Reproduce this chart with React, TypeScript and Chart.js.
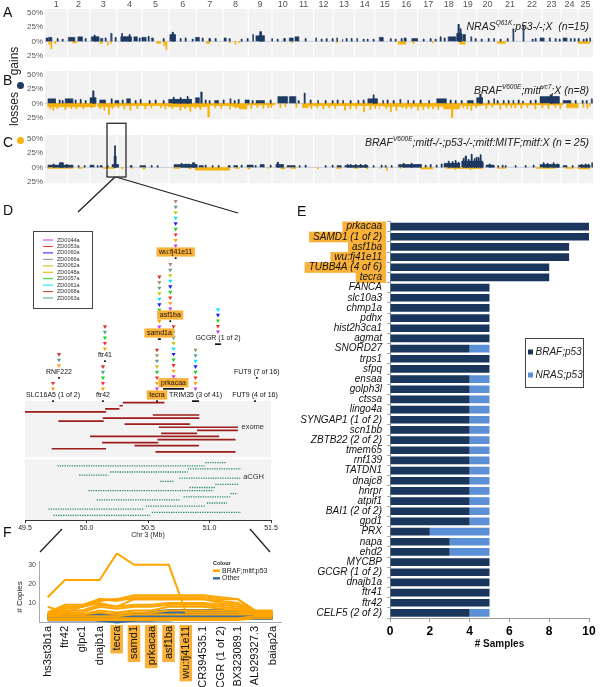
import React, { useEffect, useRef } from "react";
import { Chart, registerables } from "chart.js";
Chart.register(...registerables);

const FF = '"Liberation Sans", Arial, Helvetica, sans-serif';
const GAIN = "#1e3a63";
const LOSS = "#f6b30f";
const HILITE = "#f9b13a";

// ---------------- Panels A–C : genome-wide gains / losses ----------------
const chromosomes = ["1","2","3","4","5","6","7","8","9","10","11","12","13","14","15","16","17","18","19","20","21","22","23","24","25"];
const chromLengths = [22.4, 22.3, 27.3, 25, 27, 27.5, 26.5, 25.2, 23.7, 21.6, 20.1, 19.6, 21.4, 20.1, 20.3, 22.6, 21.1, 19.9, 18.2, 21.6, 23.4, 20.2, 19, 17, 15];
const yTickValues = [50, 25, 0, -25];

// segments: [start, end, percent]
const nrasGains = [[1.0,3.0,6],[3.5,6.7,7],[12,13,5],[17,18,4],[23.2,29.7,7],[32.7,37.3,8],[40,41,5],[46.2,53.8,8],[49,50,11],[55.3,57.6,5],[60,61,6],[65.5,66.8,14],[70,71,7],[75.6,86.4,8],[76.5,77.5,14],[84,85,12],[88.7,92.1,8],[94,95,6],[96.7,100.9,7],[103,104,9],[106.3,108.2,6],[118,119,5],[124.7,130.4,12],[127,128.5,16],[135,136,5],[140,141,6],[147,148,4],[150.3,154.2,7],[157,158,6],[163.7,165.5,5],[170,171,5],[179,181,6],[184,185,5],[196,197,4],[202,203,5],[207.5,208.5,12],[210.8,219.3,10],[214.5,216.5,17],[226.5,227.5,5],[232,233,4],[238.4,240.3,5],[244.2,248,6],[249.9,253.7,8],[260,261,5],[270.5,271.5,6],[276,277,4],[281,282,5],[287,288,5],[291.5,292.5,6],[297,298,4],[301,302,5],[306,307,5],[311.5,312.5,5],[318,319,4],[322,323,4],[328,329,4],[334.2,338,7],[345.2,346.2,5],[350,351,4],[356,357,5],[359,361,6],[366.7,372.5,5],[378,379,4],[385,386,5],[390,391,4],[395,396,8],[399,400,6],[403.1,410.8,8],[411.5,416.5,14],[412.8,414.2,30],[415,416,22],[417.3,420.3,12],[425.6,426.6,8],[430,431,5],[436,437,4],[443,444,5],[448.5,449.5,5],[455,456,4],[462,463,5],[467.7,468.7,22],[477.8,478.8,28],[487,488,4],[490,491,5],[495,498.9,6],[504.2,505.2,6],[510,511,5],[514,515,4],[518,521.8,6],[525.2,526.2,5],[529,530,5],[533,534,5],[538,539,4],[541,542,5],[544.5,545.5,6]];
const nrasLosses = [[4,5,-5],[6,7,-13],[10,11,-4],[27.8,31.6,-3],[55.3,57.6,-4],[62.5,63.5,-7],[65.5,66.5,-4],[112,115.9,-4],[118.9,120.8,-8],[121.2,122,-15],[161.8,164.9,-4],[184.5,185.5,-3],[190,191,-5],[194,195,-3],[246.5,247.5,-3],[291.5,292.5,-3],[353.3,361,-5],[368,369,-4],[387.5,388.5,-3],[414.6,420.3,-5],[452.9,460.6,-4],[533.3,544.8,-4]];

const brafMitfGains = [[2.9,10.5,8],[14,15,6],[17,18,5],[20.1,27.8,8],[30,31,6],[35,36,7],[40,41,5],[45,50.8,10],[47.5,48.8,22],[54.6,60.3,6],[66,67,8],[69.9,73.7,5],[77,78,6],[81.4,85.2,8],[90,91,5],[95,96,7],[104,105,5],[110,111,6],[118,119,5],[123.5,146.5,7],[128,129,11],[135,136,10],[142,143,12],[150.3,154.2,10],[155.5,157,20],[160,161,6],[164,165,5],[169.5,173.3,5],[178,179,6],[184.8,185.8,8],[189,190,5],[193,194,7],[200,204,6],[207,208,5],[211,219.3,5],[225,226,6],[232.7,242.3,12],[244.2,250.7,12],[253,254,5],[259,260,18],[265,266,6],[272.5,273.5,5],[280,281,5],[287,288,5],[292,293,6],[297.5,298.5,5],[305,306,5],[312.7,313.7,5],[318,319,6],[322.7,332.3,8],[328,329,15],[337.5,338.5,5],[342,343,6],[348,349,5],[354.7,355.7,7],[362.5,363.5,5],[368,369,5],[375,376,6],[383.5,384.5,5],[391.6,401.2,8],[405,406,6],[410,411,5],[416,417,5],[422.3,428,5],[431.5,437.5,10],[434.5,436,16],[443,444,5],[448.5,449.5,8],[452,453,5],[458,459,5],[463,464,5],[467.7,468.7,5],[473,474,6],[477.3,478.3,4],[485,486,5],[490,491,6],[495,514.2,12],[505,507,15],[518,525.7,5],[530,531,5],[537,538,5],[541,542,5],[546.2,547.2,8]];
const brafMitfLosses = [[2.9,50.8,-6],[5,6,-10],[8,9,-12],[12,13,-9],[20,21,-11],[26,27,-9],[31,32,-10],[38,39,-10],[46,47,-8],[52.7,69.9,-6],[55,56,-10],[59,60,-12],[63.5,64.5,-20],[67,68,-9],[69.9,123.5,-4],[73,74,-8],[79,80,-10],[85,86,-12],[92,93,-9],[100,101,-10],[106,107,-8],[115.5,116.5,-8],[120,121,-10],[123.5,161.8,-6],[127,128,-9],[135,136,-12],[140,141,-10],[145,146,-14],[150,151,-9],[155,156,-11],[163,164.5,-24],[161.8,194.4,-4],[170,171,-8],[176,177,-9],[184.5,185.5,-10],[190,191,-8],[194.4,202,-10],[202,230,-3],[206,207,-9],[212,213,-7],[218,219,-9],[223,224,-8],[226,227,-7],[235,236,-8],[240,241,-6],[251,252,-7],[257.6,263.3,-8],[263.3,338,-4],[266,267,-9],[272,273,-8],[278,279,-10],[284,285,-8],[290,291,-9],[299.5,300.5,-12],[305,306,-10],[311,312,-9],[318.5,319.5,-15],[325,326,-11],[330,331,-9],[334,335,-10],[338,401,-5],[341,342,-9],[345.5,346.5,-15],[351,352,-12],[357,358,-8],[361,362,-10],[366,367,-9],[372.5,373.5,-12],[378,379,-11],[383,384,-9],[387.5,388.5,-10],[393,394,-11],[399,414.6,-10],[406.5,408,-25],[414.6,437.6,-4],[418,419,-8],[422,423,-9],[426,427,-12],[431,432,-8],[437.6,518,-3],[441,442,-9],[447,448,-7],[455,456,-10],[461,462,-7],[466,467,-8],[470,471,-8],[476,477,-9],[482,483,-7],[490,491,-10],[497,498,-8],[503,504,-9],[510,511,-7],[515,516,-9],[521.8,533.3,-8],[538,539,-7],[542,543,-9],[544.5,545.5,-5]];

const brafP53Gains = [[2.9,27.8,4],[8,9,6],[14.4,18.2,8],[21,22,5],[33,34,3],[39,40,3],[45,48.8,4],[52,53,3],[55,57,3],[62,63,3],[67,73.5,5],[69,71,20],[69.6,70.4,38],[85,87,3],[94.8,100.5,3],[106,107,3],[112,113,3],[129,152,5],[136,137,7],[140,141,6],[143,144,6],[147.5,149.5,8],[154,158,3],[160,161,4],[167,168,3],[173,174,3],[183,185,3],[188.6,192.5,3],[196,197,4],[202,208,4],[210,211,3],[215,219,5],[225,226,4],[230.8,238.4,5],[232,233.5,9],[242,250,3],[254,255,3],[260,261,4],[280,281,3],[287,288,4],[292,296,3],[299.7,322.7,3],[302,303,5],[305,306,5],[310,311,5],[315,316,5],[320,321,5],[328,329,3],[336,337,4],[340,341,3],[346,347,3],[353.3,376.3,5],[358,359,7],[366,367,7],[380,381,4],[385,386,5],[391,392,4],[396,397,6],[399,414.6,7],[403,404,11],[407,408,10],[410,411,12],[413,414,9],[416.5,437.6,11],[418,419,16],[420,421.5,20],[423,424,14],[426,427,23],[429,430,15],[431,432,18],[433,434,17],[435,436,22],[437,438,8],[441,449,4],[444,445,6],[452.5,453.5,3],[457,458,4],[460,461,3],[470,471,3],[480,481,3],[488,489,4],[495,514.2,5],[498,499,8],[502,503,7],[508,509,8],[512,513,6],[518,521.8,3],[527,528,3],[533.3,544.8,4],[536,537,5],[540,541,6],[543,544,5],[546.5,547.5,8]];
const brafP53Losses = [[2.9,27.8,-2],[33.5,37.3,-2],[58.4,69.9,-2],[77,78,-3],[87,88,-2],[98,100,-3],[129,135,-2],[144,146,-3],[150.3,184.8,-5],[190.5,194.4,-2],[203,205,-3],[223,224,-2],[236,240,-3],[246,251,-2],[272.5,273.5,-3],[292,296,-2],[309,313,-2],[322,323,-3],[334,335,-3],[341.5,342.5,-6],[355,356,-2],[376,387.8,-3],[401,437.6,-2],[410,411,-4],[425,426,-4],[452.9,460.6,-2],[491,510.4,-2],[521,529,-2],[533.3,544.8,-3]];

const titleA = [["NRAS", false], ["Q61K", true], [";p53-/-;X  (n=15)", false]];
const titleB = [["BRAF", false], ["V600E", true], [";mitf", false], ["vc7", true], [";X (n=8)", false]];
const titleC = [["BRAF", false], ["V600E", true], [";mitf-/-;p53-/-;mitf:MITF;mitf:X (n = 25)", false]];

// ---------------- Panel D : chr3 49.5–51.5 Mb ----------------
const sampleIds = ["ZD0044a","ZD0053a","ZD0060a","ZD0066a","ZD0062a","ZD0048a","ZD0057a","ZD0061a","ZD0068a","ZD0063a"];
const sampleColors = ["#c43cf2","#ff2b2b","#1c1cff","#a58f70","#c8c400","#ffa300","#22cf22","#00e4ff","#d63030","#5e9e8a"];
const ALL10 = ["ZD0044a","ZD0048a","ZD0053a","ZD0057a","ZD0060a","ZD0061a","ZD0062a","ZD0063a","ZD0066a","ZD0068a"];
const NO68 = ["ZD0044a","ZD0048a","ZD0053a","ZD0057a","ZD0060a","ZD0061a","ZD0062a","ZD0063a","ZD0066a"];
const geneNames = ["SLC16A5 (1 of 2)","RNF222","ftr42","ftr41","tecra","samd1a","prkacaa","asf1ba","wu:fj41e11","TRIM35 (3 of 41)","GCGR (1 of 2)","FUT9 (7 of 16)","FUT9 (4 of 16)"];
const geneStart = [49.722, 49.772, 50.130, 50.146, 50.569, 50.580, 50.622, 50.677, 50.721, 50.858, 51.045, 51.381, 51.366];
const geneEnd   = [49.734, 49.780, 50.138, 50.154, 50.577, 50.605, 50.793, 50.685, 50.729, 50.915, 51.093, 51.387, 51.374];
const geneHighlighted = [false,false,false,false,true,true,true,true,true,false,false,false,false];
const geneSamples = [
  ["ZD0053a","ZD0048a"],
  ["ZD0068a","ZD0063a","ZD0048a"],
  ["ZD0068a","ZD0063a","ZD0057a","ZD0053a","ZD0048a"],
  ["ZD0068a","ZD0063a","ZD0057a","ZD0053a","ZD0048a"],
  ["ZD0068a","ZD0066a","ZD0063a","ZD0062a","ZD0057a","ZD0053a","ZD0048a","ZD0044a"],
  ALL10,
  ALL10,
  NO68,
  NO68,
  ["ZD0066a","ZD0063a","ZD0061a","ZD0060a","ZD0057a","ZD0053a","ZD0048a","ZD0044a"],
  ["ZD0061a","ZD0060a","ZD0057a","ZD0053a","ZD0044a"],
  [],
  [],
];
// layout: vertical row of each gene label (px below panel top)
const geneLabelRow = [205, 181.7, 205, 165, 205, 143, 192.7, 125, 62, 205, 148, 181.7, 205];
const exomeSegments = [[50.295,50.634],[50.268,50.295],[50.151,50.268],[49.5,50.16],[50.539,50.917],[50.132,50.917],[49.771,50.14],[50.309,50.841],[50.588,51.231],[50.898,51.231],[50.607,50.9],[50.029,51.079],[50.577,51.212],[50.127,50.583],[50.39,50.914],[49.717,50.159],[50.561,51.212]];
const acghSegments = [[50.965,51.134],[49.763,50.96],[50.824,51.256],[50.192,50.822],[49.94,50.178],[50.754,51.25],[50.599,50.708],[51.047,51.237],[50.838,51.047],[50.016,51.033],[51.169,51.229],[50.789,51.169],[50.083,50.756],[50.979,51.142],[50.482,50.965],[49.69,50.471],[50.531,51.256],[49.731,50.518]];
const dTicks = [49.5, 50.0, 50.5, 51.0, 51.5];

// ---------------- Panel E : recurrently gained genes ----------------
const eGenes = ["prkacaa","SAMD1 (1 of 2)","asf1ba","wu:fj41e11","TUBB4A (4 of 6)","tecra","FANCA","slc10a3","chmp1a","pdhx","hist2h3ca1","agmat","SNORD27","trps1","sfpq","ensaa","golph3l","ctssa","lingo4a","SYNGAP1 (1 of 2)","scn1bb","ZBTB22 (2 of 2)","tmem65","rnf139","TATDN1","dnajc8","hnrpr","atpif1","BAI1 (2 of 2)","gpd1","PRX","napa","ehd2","MYCBP","GCGR (1 of 2)","dnajb1a","ftr41","ftr42","CELF5 (2 of 2)"];
const eBraf = [10,10,9,9,8,8,5,5,5,5,5,5,4,5,5,4,4,4,4,4,4,4,4,4,4,4,4,4,4,4,2,3,3,5,5,5,5,5,4];
const eNras = [0,0,0,0,0,0,0,0,0,0,0,0,1,0,0,1,1,1,1,1,1,1,1,1,1,1,1,1,1,1,3,2,2,0,0,0,0,0,1];
const eHighlightCount = 6;
const eTicks = [0, 2, 4, 6, 8, 10];

// ---------------- Panel F : copy number across the amplicon ----------------
const fGenes = ["hs3st3b1a","ftr42","glpc1","dnajb1a","tecra","samd1","prkacaa","asf1ba","wu:fj41e11","CR394535.1","GCGR (1 of 2)","BX323089.1","AL929327.3","baiap2a"];
const fHighlighted = [4, 5, 6, 7, 8];
const fBrafLines = [
  [13,22,22,22,36,30,30,30,5,5,5,5,4,4],
  [8,5,8,12,12,14,14,14,14,14,13,12,6,6],
  [5,9,9,12,11,13,13,13,13,13,12,12,5,5],
  [4,8,8,11,12,12,12,12,12,12,11,10,5,5],
  [4,7,8,10,8,12,12,12,12,12,10,9,5,5],
  [4,6,6,9,8,9,9,10,10,10,9,8,5,5],
  [3,5,5,8,7,8,8,9,9,9,8,7,5,5],
  [3,5,4,6,5,6,6,8,8,8,7,6,4,4],
  [3,4,4,5,4,5,5,6,6,6,6,6,4,4],
  [3,3,3,3,3,4,4,4,4,4,4,4,4,4],
  [2,2,2,2,2,2,2,2,2,2,2,2,3,3],
  [1,1,1,1,1,1,1,1,1,1,1,1,2,2],
];
const fOtherLines = [
  [4,4,4,4,4,4,5,6,6,6,6,6,5,5],
  [4,4,4,4,3,4,4,5,6,6,6,5,5,5],
  [3,3,3,3,3,3,3,4,5,5,5,5,4,4],
  [3,3,3,2,2,2,3,3,4,4,4,4,4,4],
  [2,2,2,2,1,2,2,3,3,3,3,3,3,3],
  [2,2,2,1,0.5,1,2,2,2,2,2,3,3,3],
  [2,2,2,1,0,1,1,2,2,2,2,2,2,2],
  [1,1,1,1,1,1,1,1,2,2,2,2,2,2],
];
const fTicks = [10, 20, 30];

// ---------------- helpers ----------------
const chromBounds: number[] = (() => {
  const b = [0];
  chromLengths.forEach((l) => b.push(b[b.length - 1] + l));
  return b;
})();
const genomeLength = chromBounds[chromBounds.length - 1];

function segPoints(segs: number[][]) {
  const pts: any[] = [];
  for (const [s, e, v] of segs) {
    pts.push({ x: s, y: 0 }, { x: s, y: v }, { x: e, y: v }, { x: e, y: 0 }, { x: e, y: null });
  }
  return pts;
}

function ChartBox({ left, top, width, height, make }: any) {
  const ref = useRef<HTMLCanvasElement | null>(null);
  useEffect(() => {
    const chart = new Chart(ref.current as HTMLCanvasElement, make());
    return () => chart.destroy();
  }, []);
  return (
    <canvas
      ref={ref}
      width={width}
      height={height}
      style={{ position: "absolute", left, top, width, height }}
    />
  );
}

function trackConfig(gains: number[][], losses: number[][], o: any): any {
  const plugin = {
    id: "trackDeco",
    beforeDatasetsDraw(chart: any) {
      const { ctx, chartArea: a, scales } = chart;
      const x = scales.x, y = scales.y;
      ctx.save();
      ctx.fillStyle = "#f2f2f2";
      ctx.fillRect(a.left, a.top, a.right - a.left, a.bottom - a.top);
      ctx.strokeStyle = "#ffffff";
      ctx.lineWidth = 1.2;
      chromBounds.slice(1, -1).forEach((b) => {
        const px = x.getPixelForValue(b);
        ctx.beginPath();
        ctx.moveTo(px, a.top);
        ctx.lineTo(px, a.bottom);
        ctx.stroke();
      });
      const y0 = y.getPixelForValue(0);
      ctx.strokeStyle = "#c3cedb";
      ctx.lineWidth = 1;
      ctx.beginPath();
      ctx.moveTo(a.left, y0);
      ctx.lineTo(a.right, y0);
      ctx.stroke();
      ctx.restore();
    },
    afterDatasetsDraw(chart: any) {
      const { ctx, chartArea: a, scales } = chart;
      const x = scales.x;
      ctx.save();
      const widths = o.title.map((p: any) => {
        ctx.font = `italic ${p[1] ? 6.5 : 10.5}px ${FF}`;
        return ctx.measureText(p[0]).width;
      });
      let cx = a.right - 4 - widths.reduce((s: number, w: number) => s + w, 0);
      ctx.textAlign = "left";
      ctx.textBaseline = "middle";
      ctx.fillStyle = "#222";
      o.title.forEach((p: any, i: number) => {
        ctx.font = `italic ${p[1] ? 6.5 : 10.5}px ${FF}`;
        ctx.fillText(p[0], cx, o.titleY - (p[1] ? 4 : 0));
        cx += widths[i];
      });
      if (o.chromLabels) {
        ctx.font = `9px ${FF}`;
        ctx.fillStyle = "#555";
        ctx.textAlign = "center";
        chromosomes.forEach((c, i) => {
          ctx.fillText(c, x.getPixelForValue((chromBounds[i] + chromBounds[i + 1]) / 2), 4.5);
        });
      }
      if (o.box) {
        const x0 = x.getPixelForValue(o.box[0]);
        const x1 = x.getPixelForValue(o.box[1]);
        ctx.strokeStyle = "#2a2a2a";
        ctx.lineWidth = 1.3;
        ctx.strokeRect(x0, o.box[2], x1 - x0, o.box[3] - o.box[2]);
      }
      ctx.restore();
    },
  };
  return {
    type: "line",
    data: {
      datasets: [
        { data: segPoints(gains), borderColor: GAIN, backgroundColor: GAIN, borderWidth: 0.5, fill: "origin", pointRadius: 0, spanGaps: false, tension: 0 },
        { data: segPoints(losses), borderColor: LOSS, backgroundColor: LOSS, borderWidth: 0.5, fill: "origin", pointRadius: 0, spanGaps: false, tension: 0 },
      ],
    },
    options: {
      responsive: false,
      animation: false,
      events: [],
      layout: { padding: { top: o.padTop, bottom: o.padBottom, left: 0, right: 7 } },
      plugins: { legend: { display: false }, tooltip: { enabled: false } },
      scales: {
        x: { type: "linear", min: 0, max: genomeLength, display: false },
        y: {
          type: "linear",
          min: -28,
          max: 57,
          grid: { display: false, drawTicks: false, tickLength: 0 },
          border: { display: false },
          afterBuildTicks: (s: any) => { s.ticks = yTickValues.map((v) => ({ value: v })); },
          afterFit: (s: any) => { s.width = 45; },
          ticks: { callback: (v: any) => Math.abs(Number(v)) + "%", font: { family: FF, size: 8 }, color: "#555", padding: 2 },
        },
      },
    },
    plugins: [plugin],
  };
}

const D_TOP = 170;
function dConfig(): any {
  const markerGap = 6.3;
  const markerPitch = 5.55;
  const sampleSets = sampleIds.map((sid, si) => {
    const pts: any[] = [];
    geneNames.forEach((g, gi) => {
      const list = geneSamples[gi];
      if (list.indexOf(sid) < 0) return;
      const rank = [...list].sort().indexOf(sid);
      pts.push({ x: (geneStart[gi] + geneEnd[gi]) / 2, y: geneLabelRow[gi] - markerGap - rank * markerPitch });
    });
    return {
      label: sid,
      data: pts,
      showLine: false,
      pointStyle: "triangle",
      rotation: 180,
      pointRadius: 2.4,
      pointBackgroundColor: sampleColors[si],
      pointBorderColor: sampleColors[si],
      pointBorderWidth: 0,
    };
  });
  const rowPts = (segs: number[][], top: number, pitch: number) => {
    const pts: any[] = [];
    segs.forEach(([s, e], i) => {
      const yy = top + i * pitch;
      pts.push({ x: s, y: yy }, { x: e, y: yy }, { x: e, y: null });
    });
    return pts;
  };
  const plugin = {
    id: "dDeco",
    beforeDatasetsDraw(chart: any) {
      const { ctx, chartArea: a, scales } = chart;
      const y = scales.y;
      ctx.save();
      ctx.fillStyle = "#f3f3f3";
      const e0 = y.getPixelForValue(211), e1 = y.getPixelForValue(267.3);
      ctx.fillRect(a.left, e0, a.right - a.left, e1 - e0);
      const c0 = y.getPixelForValue(269.3), c1 = y.getPixelForValue(330);
      ctx.fillRect(a.left, c0, a.right - a.left, c1 - c0);
      ctx.fillStyle = "#333";
      ctx.font = `7.5px ${FF}`;
      ctx.textAlign = "right";
      ctx.textBaseline = "middle";
      ctx.fillText("exome", a.right - 7, y.getPixelForValue(237));
      ctx.fillText("aCGH", a.right - 7, y.getPixelForValue(287));
      ctx.restore();
    },
    afterDatasetsDraw(chart: any) {
      const { ctx, chartArea: a, scales } = chart;
      const x = scales.x, y = scales.y;
      ctx.save();
      ctx.font = `7px ${FF}`;
      ctx.textAlign = "center";
      ctx.textBaseline = "middle";
      geneNames.forEach((g, i) => {
        const cxp = x.getPixelForValue((geneStart[i] + geneEnd[i]) / 2);
        const cyp = y.getPixelForValue(geneLabelRow[i]);
        const w = ctx.measureText(g).width;
        if (geneHighlighted[i]) {
          ctx.fillStyle = HILITE;
          ctx.fillRect(cxp - w / 2 - 2.5, cyp - 4.6, w + 5, 9.2);
        }
        ctx.fillStyle = "#111";
        ctx.fillText(g, cxp, cyp + 0.3);
        const x0 = x.getPixelForValue(geneStart[i]);
        const x1 = x.getPixelForValue(geneEnd[i]);
        const ww = Math.max(1.8, x1 - x0);
        ctx.fillRect((x0 + x1) / 2 - ww / 2, cyp + 5.3, ww, 1.7);
      });
      // sample legend
      ctx.strokeStyle = "#444";
      ctx.lineWidth = 1;
      ctx.strokeRect(33.5, 231.5 - D_TOP, 59, 77);
      ctx.font = `5.5px ${FF}`;
      ctx.textAlign = "left";
      sampleIds.forEach((sid, i) => {
        const yy = 240 - D_TOP + i * 6.45;
        ctx.strokeStyle = sampleColors[i];
        ctx.lineWidth = 1;
        ctx.beginPath();
        ctx.moveTo(43, yy);
        ctx.lineTo(53, yy);
        ctx.stroke();
        ctx.fillStyle = "#333";
        ctx.fillText(sid, 57, yy);
      });
      // zoom connectors
      ctx.strokeStyle = "#222";
      ctx.lineWidth = 1.3;
      const seg = (x0: number, y0: number, x1: number, y1: number) => {
        ctx.beginPath();
        ctx.moveTo(x0, y0 - D_TOP);
        ctx.lineTo(x1, y1 - D_TOP);
        ctx.stroke();
      };
      seg(115, 177, 78, 212);
      seg(116, 177, 238, 213);
      seg(62, 529, 40, 552);
      seg(250, 529, 270, 552);
      // axis title
      ctx.fillStyle = "#222";
      ctx.font = `7px ${FF}`;
      ctx.textAlign = "center";
      ctx.fillText("Chr 3 (Mb)", (a.left + a.right) / 2, 535 - D_TOP);
      ctx.restore();
    },
  };
  return {
    type: "scatter",
    data: {
      datasets: [
        ...sampleSets,
        { label: "exome", data: rowPts(exomeSegments, 212.7, 3.07), showLine: true, borderColor: "#9e1d1d", borderWidth: 1.7, pointRadius: 0, spanGaps: false },
        { label: "aCGH", data: rowPts(acghSegments, 272.7, 3.1), showLine: true, borderColor: "#2f8a6d", borderWidth: 1.3, borderDash: [1.3, 1.1], pointRadius: 0, spanGaps: false },
      ],
    },
    options: {
      responsive: false,
      animation: false,
      events: [],
      layout: { padding: { top: 20, left: 25, right: 19, bottom: 0 } },
      plugins: { legend: { display: false }, tooltip: { enabled: false } },
      scales: {
        x: {
          type: "linear",
          min: 49.5,
          max: 51.5,
          afterBuildTicks: (s: any) => { s.ticks = dTicks.map((v) => ({ value: v })); },
          afterFit: (s: any) => { s.height = 35; },
          ticks: { callback: (v: any) => Number(v).toFixed(1), font: { family: FF, size: 7 }, color: "#222", padding: 1 },
          grid: { display: true, drawOnChartArea: false, drawTicks: true, tickLength: 3, color: "#333" },
          border: { display: true, color: "#333", width: 1 },
        },
        y: { type: "linear", reverse: true, min: 0, max: 330, display: false },
      },
    },
    plugins: [plugin],
  };
}

function eConfig(): any {
  const plugin = {
    id: "eDeco",
    beforeDraw(chart: any) {
      const { ctx, chartArea: a, scales } = chart;
      const y = scales.y;
      ctx.save();
      ctx.font = `italic 10px ${FF}`;
      const pitch = (a.bottom - a.top) / eGenes.length;
      for (let i = 0; i < eHighlightCount; i++) {
        const py = y.getPixelForTick(i);
        const w = ctx.measureText(eGenes[i]).width;
        const textRight = a.left - 8;
        ctx.fillStyle = HILITE;
        ctx.fillRect(textRight - w - 4, py - pitch / 2, w + 8, pitch + 0.5);
      }
      ctx.restore();
    },
    afterDraw(chart: any) {
      const { ctx, chartArea: a } = chart;
      ctx.save();
      ctx.fillStyle = "#111";
      ctx.font = `bold 10px ${FF}`;
      ctx.textAlign = "center";
      ctx.textBaseline = "middle";
      ctx.fillText("# Samples", (a.left + a.right) / 2 + 10, 439);
      // legend
      ctx.strokeStyle = "#444";
      ctx.lineWidth = 1;
      ctx.strokeRect(235.5, 133.5, 58, 49);
      const items = chart.data.datasets;
      items.forEach((ds: any, i: number) => {
        const yy = 147 + i * 23;
        ctx.fillStyle = ds.backgroundColor;
        ctx.fillRect(238, yy - 2.5, 5, 5);
        ctx.fillStyle = "#222";
        ctx.font = `italic 10px ${FF}`;
        ctx.textAlign = "left";
        ctx.fillText(ds.label, 245.5, yy);
      });
      ctx.restore();
    },
  };
  return {
    type: "bar",
    data: {
      labels: eGenes,
      datasets: [
        { label: "BRAF;p53", data: eBraf, backgroundColor: "#1b365d", barPercentage: 0.76, categoryPercentage: 1 },
        { label: "NRAS;p53", data: eNras, backgroundColor: "#5b8fd6", barPercentage: 0.76, categoryPercentage: 1 },
      ],
    },
    options: {
      indexAxis: "y",
      responsive: false,
      animation: false,
      events: [],
      layout: { padding: { top: 16.5, right: 11, left: 0, bottom: 0 } },
      plugins: { legend: { display: false }, tooltip: { enabled: false } },
      scales: {
        x: {
          stacked: true,
          min: 0,
          max: 10,
          afterBuildTicks: (s: any) => { s.ticks = eTicks.map((v) => ({ value: v })); },
          afterFit: (s: any) => { s.height = 42; },
          ticks: { font: { family: FF, size: 12, weight: "bold" }, color: "#000", padding: 2 },
          grid: { drawOnChartArea: false, drawTicks: true, tickLength: 4, color: "#999" },
          border: { color: "#999" },
        },
        y: {
          stacked: true,
          afterFit: (s: any) => { s.width = 100; },
          ticks: { autoSkip: false, font: { family: FF, size: 10, style: "italic" }, color: "#111", padding: 5 },
          grid: { drawOnChartArea: false, drawTicks: true, tickLength: 3, color: "#aaa", offset: true },
          border: { color: "#999" },
        },
      },
    },
    plugins: [plugin],
  };
}

function fConfig(): any {
  const plugin = {
    id: "fDeco",
    beforeDraw(chart: any) {
      const { ctx, chartArea: a, scales } = chart;
      const x = scales.x;
      ctx.save();
      ctx.font = `11px ${FF}`;
      fHighlighted.forEach((i) => {
        const px = x.getPixelForTick(i);
        const w = ctx.measureText(fGenes[i]).width;
        ctx.fillStyle = HILITE;
        ctx.fillRect(px - 6.5, a.bottom + 3, 12.5, w + 4);
      });
      ctx.restore();
    },
    afterDraw(chart: any) {
      const { ctx } = chart;
      ctx.save();
      ctx.fillStyle = "#222";
      ctx.font = `8px ${FF}`;
      ctx.textAlign = "center";
      ctx.textBaseline = "middle";
      ctx.translate(20, 44);
      ctx.rotate(-Math.PI / 2);
      ctx.fillText("# Copies", 0, 0);
      ctx.restore();
      ctx.save();
      ctx.textAlign = "left";
      ctx.textBaseline = "middle";
      ctx.fillStyle = "#222";
      ctx.font = `bold 5.5px ${FF}`;
      ctx.fillText("Colour", 213, 10.5);
      const items = [["BRAF;mitf;p53", "#ffa500"], ["Other", "#3d6e9e"]];
      items.forEach((it, i) => {
        const yy = 17.7 + i * 7.6;
        ctx.strokeStyle = it[1];
        ctx.lineWidth = 2.5;
        ctx.beginPath();
        ctx.moveTo(213, yy);
        ctx.lineTo(220, yy);
        ctx.stroke();
        ctx.fillStyle = "#222";
        ctx.font = `7px ${FF}`;
        ctx.fillText(it[0], 222, yy);
      });
      ctx.restore();
    },
  };
  const orange = fBrafLines.map((d, i) => ({ label: "BRAF;mitf;p53 " + i, data: d, borderColor: "#ffa500", borderWidth: 2, pointRadius: 0, tension: 0, clip: false }));
  const blue = fOtherLines.map((d, i) => ({ label: "Other " + i, data: d, borderColor: "#3d6e9e", borderWidth: 3, pointRadius: 0, tension: 0, clip: false }));
  return {
    type: "line",
    data: { labels: fGenes, datasets: [...orange, ...blue] },
    options: {
      responsive: false,
      animation: false,
      events: [],
      layout: { padding: { top: 8, right: 5, left: 0, bottom: 0 } },
      plugins: { legend: { display: false }, tooltip: { enabled: false } },
      scales: {
        x: {
          offset: true,
          afterFit: (s: any) => { s.height = 65; },
          ticks: { autoSkip: false, minRotation: 90, maxRotation: 90, font: { family: FF, size: 11 }, color: "#111", padding: 4 },
          grid: { display: false, drawTicks: false, tickLength: 0 },
          border: { color: "#aaa" },
        },
        y: {
          min: 0,
          max: 32,
          afterBuildTicks: (s: any) => { s.ticks = fTicks.map((v) => ({ value: v })); },
          afterFit: (s: any) => { s.width = 39; },
          ticks: { font: { family: FF, size: 7 }, color: "#444", padding: 3 },
          grid: { display: false, drawTicks: false, tickLength: 0 },
          border: { color: "#aaa" },
        },
      },
    },
    plugins: [plugin],
  };
}

const letter = (t: string, left: number, top: number) => (
  <div style={{ position: "absolute", left, top, font: `14px ${FF}`, color: "#111", lineHeight: "16px" }}>{t}</div>
);

export default function App() {
  return (
    <div style={{ position: "absolute", left: 0, top: 0, width: 600, height: 687, overflow: "hidden", background: "#fff", fontFamily: FF }}>
      <ChartBox left={0} top={0} width={600} height={64} make={() => trackConfig(nrasGains, nrasLosses, { padTop: 9, padBottom: 3, title: titleA, titleY: 26.7, chromLabels: true })} />
      <ChartBox left={0} top={64} width={600} height={62} make={() => trackConfig(brafMitfGains, brafMitfLosses, { padTop: 7, padBottom: 2, title: titleB, titleY: 26.7 })} />
      <ChartBox left={0} top={120} width={600} height={70} make={() => trackConfig(brafP53Gains, brafP53Losses, { padTop: 15, padBottom: 3, title: titleC, titleY: 23.3, box: [62, 81, 3.3, 57] })} />
      <ChartBox left={0} top={D_TOP} width={290} height={385} make={dConfig} />
      <ChartBox left={290} top={205} width={310} height={455} make={eConfig} />
      <ChartBox left={0} top={553} width={290} height={134} make={fConfig} />
      {letter("A", 3, 4)}
      {letter("B", 3, 72)}
      {letter("C", 3, 134)}
      {letter("D", 3, 202)}
      {letter("E", 297, 203)}
      {letter("F", 3, 524)}
      <div style={{ position: "absolute", left: 14, top: 61, transform: "translate(-50%,-50%) rotate(-90deg)", font: `12px ${FF}`, color: "#222", whiteSpace: "nowrap" }}>gains</div>
      <div style={{ position: "absolute", left: 14, top: 109, transform: "translate(-50%,-50%) rotate(-90deg)", font: `12px ${FF}`, color: "#222", whiteSpace: "nowrap" }}>losses</div>
      <div style={{ position: "absolute", left: 16.5, top: 81.5, width: 7, height: 7, borderRadius: "50%", background: GAIN }} />
      <div style={{ position: "absolute", left: 17, top: 136.5, width: 7, height: 7, borderRadius: "50%", background: LOSS }} />
    </div>
  );
}
